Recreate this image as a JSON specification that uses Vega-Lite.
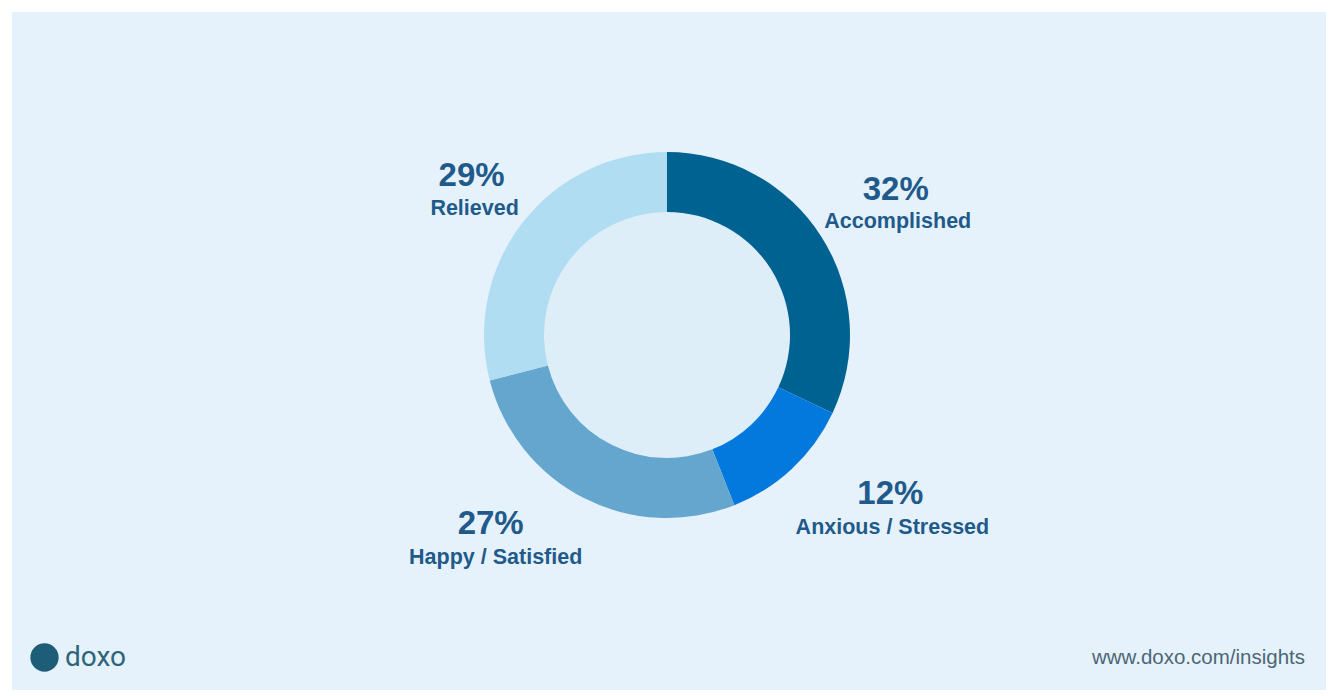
{
  "$schema": "https://vega.github.io/schema/vega-lite/v6.json",
  "width": 1336,
  "height": 696,
  "autosize": {"type": "fit", "contains": "padding"},
  "padding": {"left": 12, "top": 12, "right": 10, "bottom": 6},
  "background": "#ffffff",
  "view": {"fill": "#e6f2fb", "stroke": null},
  "config": {
    "view": {"fill": "#e6f2fb", "stroke": null},
    "font": "Liberation Sans"
  },
  "title": {
    "text": "www.doxo.com/insights",
    "orient": "bottom",
    "anchor": "end",
    "offset": -42,
    "dx": -21,
    "fontSize": 20.5,
    "fontWeight": "normal",
    "font": "Liberation Sans",
    "color": "#4c6676"
  },
  "datasets": {
    "feel": [
      {"label": "Accomplished", "pct": 32, "pctText": "32%"},
      {"label": "Anxious / Stressed", "pct": 12, "pctText": "12%"},
      {"label": "Happy / Satisfied", "pct": 27, "pctText": "27%"},
      {"label": "Relieved", "pct": 29, "pctText": "29%"}
    ],
    "brand": [{"brand": "doxo"}]
  },
  "data": {"name": "feel"},
  "layer": [
    {
      "mark": {"type": "arc", "innerRadius": 0, "outerRadius": 123, "xOffset": -2, "yOffset": -16, "fill": "#deeef9", "stroke": "#deeef9", "strokeWidth": 1},
      "encoding": {
        "theta": {"field": "pct", "type": "quantitative", "stack": true},
        "order": {"field": "label", "type": "ordinal", "sort": "ascending"}
      }
    },
    {
      "mark": {"type": "arc", "innerRadius": 123, "outerRadius": 183, "xOffset": -2, "yOffset": -16},
      "encoding": {
        "theta": {"field": "pct", "type": "quantitative", "stack": true},
        "order": {"field": "label", "type": "ordinal", "sort": "ascending"},
        "color": {
          "field": "label", "type": "nominal",
          "scale": {"domain": ["Accomplished", "Anxious / Stressed", "Happy / Satisfied", "Relieved"], "range": ["#006291", "#0379dd", "#65a6cf", "#b0ddf1"]},
          "legend": null
        }
      }
    },
    {
      "mark": {"type": "text", "radius": 265, "xOffset": -2, "yOffset": -16, "fontWeight": "bold", "fontSize": 33, "color": "#1f5a8b", "align": "center", "baseline": "alphabetic", "dx": 5, "dy": 7},
      "encoding": {
        "theta": {"field": "pct", "type": "quantitative", "stack": true},
        "order": {"field": "label", "type": "ordinal", "sort": "ascending"},
        "text": {"field": "pctText"},
        "opacity": {"condition": {"test": "datum.label === 'Accomplished'", "value": 1}, "value": 0}
      }
    },
    {
      "mark": {"type": "text", "radius": 265, "xOffset": -2, "yOffset": -16, "fontWeight": "bold", "fontSize": 21.5, "color": "#1f5a8b", "align": "center", "baseline": "alphabetic", "dx": 7, "dy": 35},
      "encoding": {
        "theta": {"field": "pct", "type": "quantitative", "stack": true},
        "order": {"field": "label", "type": "ordinal", "sort": "ascending"},
        "text": {"field": "label"},
        "opacity": {"condition": {"test": "datum.label === 'Accomplished'", "value": 1}, "value": 0}
      }
    },
    {
      "mark": {"type": "text", "radius": 265, "xOffset": -2, "yOffset": -16, "fontWeight": "bold", "fontSize": 33, "color": "#1f5a8b", "align": "center", "baseline": "alphabetic", "dx": 42, "dy": -24},
      "encoding": {
        "theta": {"field": "pct", "type": "quantitative", "stack": true},
        "order": {"field": "label", "type": "ordinal", "sort": "ascending"},
        "text": {"field": "pctText"},
        "opacity": {"condition": {"test": "datum.label === 'Anxious / Stressed'", "value": 1}, "value": 0}
      }
    },
    {
      "mark": {"type": "text", "radius": 265, "xOffset": -2, "yOffset": -16, "fontWeight": "bold", "fontSize": 21.5, "color": "#1f5a8b", "align": "center", "baseline": "alphabetic", "dx": 44, "dy": 6},
      "encoding": {
        "theta": {"field": "pct", "type": "quantitative", "stack": true},
        "order": {"field": "label", "type": "ordinal", "sort": "ascending"},
        "text": {"field": "label"},
        "opacity": {"condition": {"test": "datum.label === 'Anxious / Stressed'", "value": 1}, "value": 0}
      }
    },
    {
      "mark": {"type": "text", "radius": 265, "xOffset": -2, "yOffset": -16, "fontWeight": "bold", "fontSize": 33, "color": "#1f5a8b", "align": "center", "baseline": "alphabetic", "dx": -56, "dy": -37},
      "encoding": {
        "theta": {"field": "pct", "type": "quantitative", "stack": true},
        "order": {"field": "label", "type": "ordinal", "sort": "ascending"},
        "text": {"field": "pctText"},
        "opacity": {"condition": {"test": "datum.label === 'Happy / Satisfied'", "value": 1}, "value": 0}
      }
    },
    {
      "mark": {"type": "text", "radius": 265, "xOffset": -2, "yOffset": -16, "fontWeight": "bold", "fontSize": 21.5, "color": "#1f5a8b", "align": "center", "baseline": "alphabetic", "dx": -51, "dy": -7},
      "encoding": {
        "theta": {"field": "pct", "type": "quantitative", "stack": true},
        "order": {"field": "label", "type": "ordinal", "sort": "ascending"},
        "text": {"field": "label"},
        "opacity": {"condition": {"test": "datum.label === 'Happy / Satisfied'", "value": 1}, "value": 0}
      }
    },
    {
      "mark": {"type": "text", "radius": 265, "xOffset": -2, "yOffset": -16, "fontWeight": "bold", "fontSize": 33, "color": "#1f5a8b", "align": "center", "baseline": "alphabetic", "dx": 14, "dy": 13},
      "encoding": {
        "theta": {"field": "pct", "type": "quantitative", "stack": true},
        "order": {"field": "label", "type": "ordinal", "sort": "ascending"},
        "text": {"field": "pctText"},
        "opacity": {"condition": {"test": "datum.label === 'Relieved'", "value": 1}, "value": 0}
      }
    },
    {
      "mark": {"type": "text", "radius": 265, "xOffset": -2, "yOffset": -16, "fontWeight": "bold", "fontSize": 21.5, "color": "#1f5a8b", "align": "center", "baseline": "alphabetic", "dx": 17, "dy": 42},
      "encoding": {
        "theta": {"field": "pct", "type": "quantitative", "stack": true},
        "order": {"field": "label", "type": "ordinal", "sort": "ascending"},
        "text": {"field": "label"},
        "opacity": {"condition": {"test": "datum.label === 'Relieved'", "value": 1}, "value": 0}
      }
    },
    {
      "data": {"name": "brand"},
      "mark": {"type": "point", "opacity": 0, "filled": true, "color": "#1d5d78"},
      "encoding": {
        "shape": {
          "field": "brand", "type": "nominal",
          "scale": {"range": ["circle"]},
          "legend": {
            "title": null,
            "orient": "bottom-left",
            "offset": 18,
            "padding": 0,
            "symbolSize": 800,
            "symbolFillColor": "#1d5d78",
            "symbolStrokeColor": "#1d5d78",
            "symbolStrokeWidth": 0,
            "symbolOpacity": 1,
            "labelFont": "Roboto",
            "labelFontSize": 28,
            "labelColor": "#2c6479",
            "labelOffset": 6
          }
        }
      }
    }
  ]
}
